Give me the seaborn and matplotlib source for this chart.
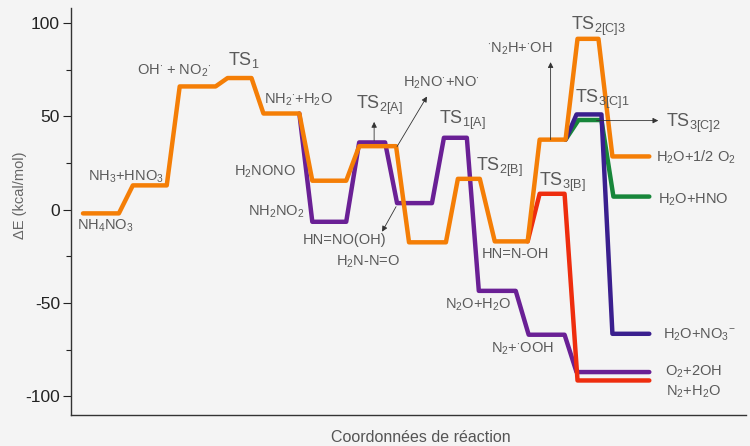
import pandas as pd
import seaborn as sns
import matplotlib.pyplot as plt

sns.set_theme(style="ticks")
plt.rcParams['font.family'] = ['Liberation Sans', 'DejaVu Sans']
plt.rcParams['mathtext.fontset'] = 'custom'
plt.rcParams['mathtext.rm'] = 'Liberation Sans'
plt.rcParams['mathtext.it'] = 'Liberation Sans'
plt.rcParams['axes.unicode_minus'] = False

# energy profiles: reaction coordinate (arbitrary units) and dE (kcal/mol)
orange_x = [83, 119, 133, 167, 180, 216, 228, 252, 264, 300, 313, 347, 360, 397,
            410, 447, 459, 481, 496, 529, 541, 567, 579, 600, 614, 651]
orange_y = [-2, -2, 13, 13, 66, 66, 70.5, 70.5, 51.5, 51.5, 15.5, 15.5, 34, 34,
            -17.5, -17.5, 16.5, 16.5, -17, -17, 37.5, 37.5, 91.5, 91.5, 28.5, 28.5]
purple_x = [300, 313, 347, 360, 386, 398, 433, 445, 468, 480, 517, 530, 566, 578, 651]
purple_y = [51.5, -6.5, -6.5, 36, 36, 3.5, 3.5, 38.5, 38.5, -43.5, -43.5, -67, -67, -87, -87]
red_x = [529, 541, 566, 579, 651]
red_y = [-17, 8.5, 8.5, -91.5, -91.5]
green_x = [567, 580, 603, 615, 651]
green_y = [37.5, 48, 48, 7, 7]
blue_x = [567, 578, 603, 614, 651]
blue_y = [37.5, 51, 51, -66.5, -66.5]

paths = {"purple": (purple_x, purple_y), "red": (red_x, red_y),
         "green": (green_x, green_y), "blue": (blue_x, blue_y),
         "orange": (orange_x, orange_y)}
colors = {"purple": "#6a2095", "red": "#ee2d0e", "green": "#17863a",
          "blue": "#3a1f8e", "orange": "#f47e06"}

rows = []
for name, (xs, ys) in paths.items():
    for i, (x, y) in enumerate(zip(xs, ys)):
        rows.append({"path": name, "step": i, "x": x, "y": y})
df = pd.DataFrame(rows)

bg = "#f4f4f4"
fig = plt.figure(figsize=(7.5, 4.46), dpi=100, facecolor=bg)
ax = fig.add_axes([0.0947, 0.0695, 0.9, 0.9125], facecolor=bg)

for name in paths:
    sns.lineplot(data=df[df.path == name], x="x", y="y", sort=False, estimator=None,
                 color=colors[name], lw=3.2, ax=ax, legend=False)

SP, TS = 10.5, 13
labels = [
    (r'NH$_4$NO$_3$', 77, -8.6, SP),
    (r'NH$_3$+HNO$_3$', 88, 17.7, SP),
    (r'OH$^{\cdot}$ + NO$_2$$^{\cdot}$', 137, 74.5, SP),
    (r'TS$_1$', 228, 80, TS),
    (r'NH$_2$$^{\cdot}$+H$_2$O', 265, 59, SP),
    (r'H$_2$NONO', 234, 20.4, SP),
    (r'NH$_2$NO$_2$', 248, -1, SP),
    (r'TS$_{\mathrm{2[A]}}$', 357, 55.8, TS),
    (r'H$_2$NO$^{\cdot}$+NO$^{\cdot}$', 404, 68, SP),
    (r'HN=NO(OH)', 303, -16, SP),
    (r'TS$_{\mathrm{1[A]}}$', 440, 47.7, TS),
    (r'H$_2$N-N=O', 337, -28, SP),
    (r'TS$_{\mathrm{2[B]}}$', 477, 22.5, TS),
    (r'HN=N-OH', 483, -24, SP),
    (r'TS$_{\mathrm{3[B]}}$', 540, 14.5, TS),
    (r'N$_2$O+H$_2$O', 446, -51, SP),
    (r'N$_2$+$^{\cdot}$OOH', 492, -74.5, SP),
    (r'$^{\cdot}$N$_2$H+$^{\cdot}$OH', 488, 86, SP),
    (r'TS$_{\mathrm{2[C]3}}$', 572, 98, TS),
    (r'TS$_{\mathrm{3[C]1}}$', 576, 59, TS),
    (r'TS$_{\mathrm{3[C]2}}$', 668, 46, TS),
    (r'H$_2$O+$\mathrm{1/2}$ O$_2$', 658, 28, SP),
    (r'H$_2$O+HNO', 660, 5.4, SP),
    (r'H$_2$O+NO$_3$$^{-}$', 665, -67, SP),
    (r'O$_2$+2OH', 667, -87, SP),
    (r'N$_2$+H$_2$O', 668, -97.5, SP),
]
for txt, x, y, fs in labels:
    ax.text(x, y, txt, fontsize=fs, color="#5a5a5a", ha="left", va="center")

arrows = [
    ((375, 37), (375, 47)),
    ((398, 33.8), (428, 60.6)),
    ((397, 1.6), (383, -11.8)),
    ((552, 37.5), (552, 79)),
    ((598, 47.7), (660, 47.7)),
]
for (x0, y0), (x1, y1) in arrows:
    ax.annotate("", xy=(x1, y1), xytext=(x0, y0),
                arrowprops=dict(arrowstyle="-|>", color="#333333", lw=0.6,
                                mutation_scale=8, shrinkA=0, shrinkB=0))

ax.set_xlim(71, 748)
ax.set_ylim(-110, 108)
ax.set_xticks([])
ax.set_yticks([-100, -50, 0, 50, 100])
ax.set_yticks([-75, -25, 25, 75], minor=True)
ax.tick_params(axis="y", which="major", length=6, width=0.8, labelsize=12.5,
               colors="#222222", pad=2)
ax.tick_params(axis="y", which="minor", length=3.5, width=0.8, colors="#222222")
sns.despine(ax=ax)
for s in ["left", "bottom"]:
    ax.spines[s].set_color("#333333")
    ax.spines[s].set_linewidth(1.0)
ax.set_xlabel("")
ax.set_ylabel("")
fig.text(20 / 750, 1 - 195 / 446, "ΔE (kcal/mol)", fontsize=10.5, color="#666666",
         rotation=90, ha="center", va="center")
fig.text(421 / 750, 1 - 437 / 446, "Coordonnées de réaction", fontsize=11.5,
         color="#555555", ha="center", va="center")

fig.savefig("out.png", dpi=100, facecolor=bg)
